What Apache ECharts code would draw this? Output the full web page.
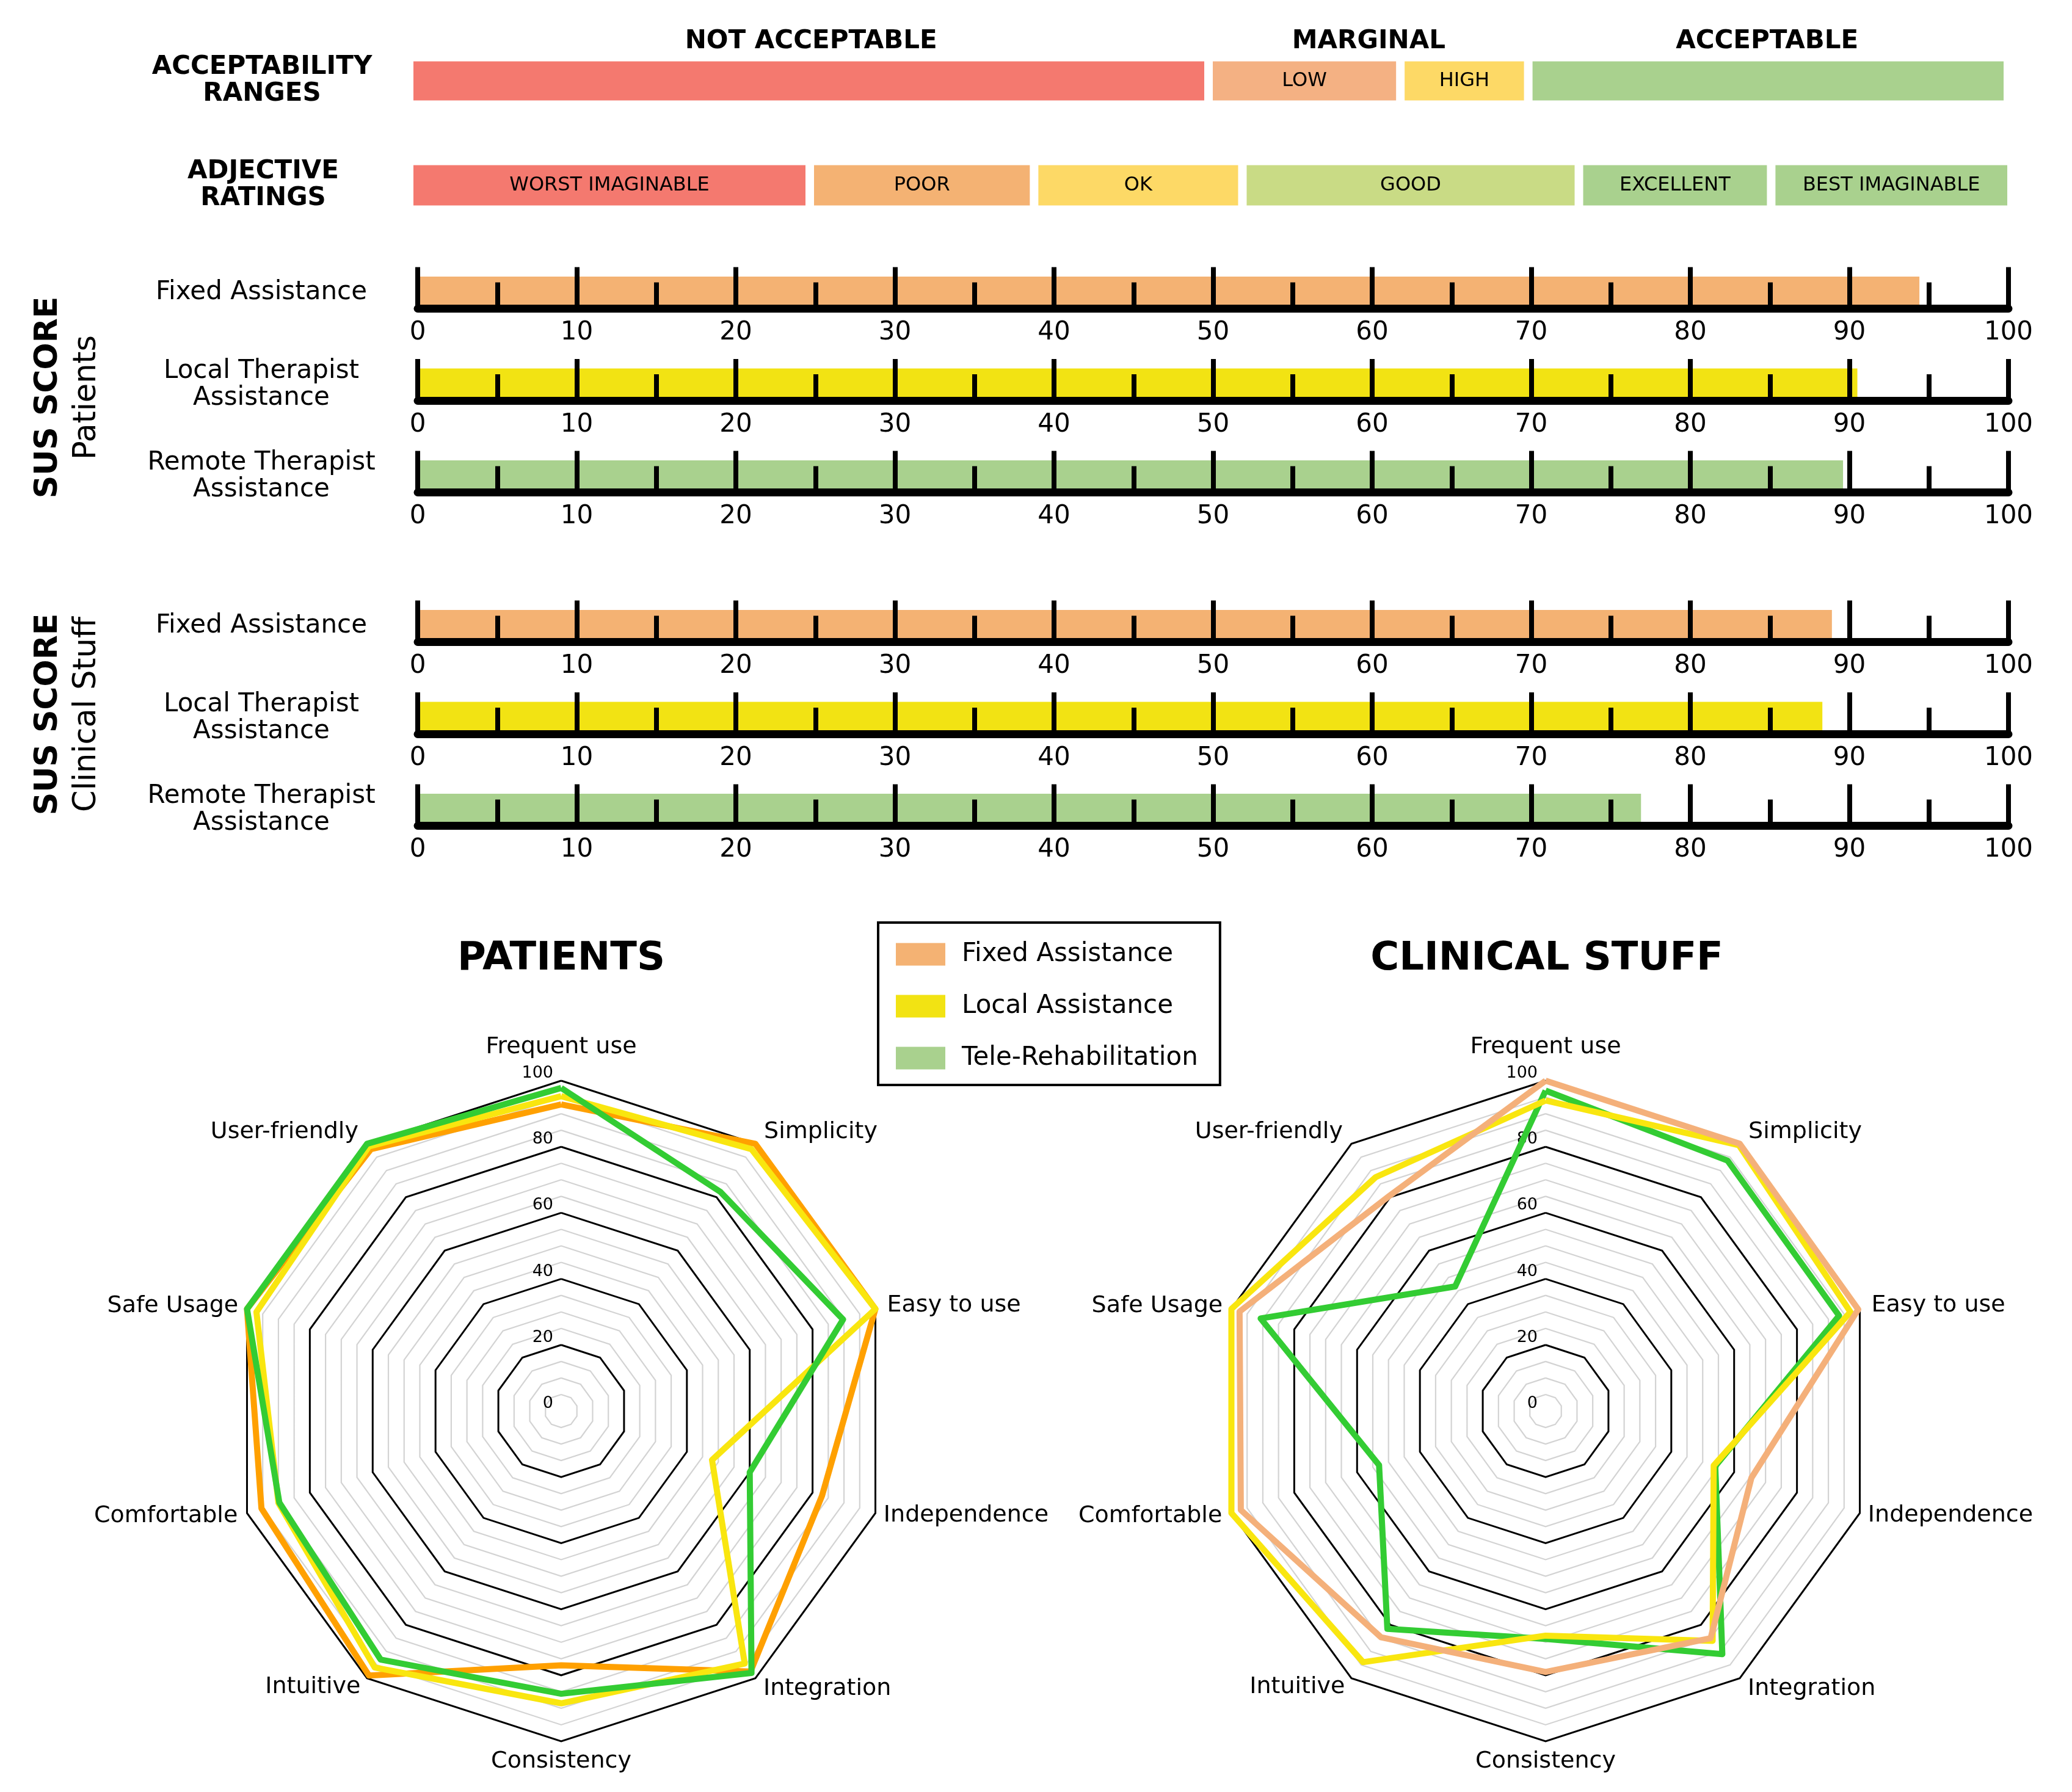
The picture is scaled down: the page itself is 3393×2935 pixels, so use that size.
<!DOCTYPE html>
<html><head><meta charset="utf-8">
<script src="https://cdn.jsdelivr.net/npm/echarts@6/dist/echarts.min.js"></script>
<style>html,body{margin:0;padding:0;background:#fff}#c{width:3393px;height:2935px}</style>
</head><body><div id="c"></div>
<script>
const FONT = 'DejaVu Sans';

// ---------------- data ----------------
const accHeaders = ['NOT ACCEPTABLE', 'MARGINAL', 'ACCEPTABLE'];
const accHeaderBounds = [0, 50, 70, 100];
const accLabels = ['', 'LOW', 'HIGH', ''];
const accBounds = [0, 50, 62, 70, 100];
const adjLabels = ['WORST IMAGINABLE', 'POOR', 'OK', 'GOOD', 'EXCELLENT', 'BEST IMAGINABLE'];
const adjBounds = [0, 25, 39, 52, 73, 85, 100];

const susRowLabels = ['Fixed Assistance', 'Local Therapist\nAssistance', 'Remote Therapist\nAssistance'];
const susPatients = [94.4, 90.5, 89.6];
const susClinical = [88.9, 88.3, 76.9];
const susAxis = { min: 0, max: 100, interval: 10 };

const radarAxes = ['Frequent use', 'Simplicity', 'Easy to use', 'Independence', 'Integration',
  'Consistency', 'Intuitive', 'Comfortable', 'Safe Usage', 'User-friendly']; // clockwise from top
const radarSeriesNames = ['Fixed Assistance', 'Local Assistance', 'Tele-Rehabilitation'];
const patFixed = [92.8, 100, 100, 83, 97.5, 77, 99, 95.4, 100, 98];
const patLocal = [95.3, 98, 100, 48, 94.5, 88.5, 96, 90, 97, 99];
const patTele  = [97.8, 82, 89.7, 60, 98, 85.6, 93, 89.7, 100, 100];
const cliFixed = [100, 100, 99.5, 65.5, 85, 79, 84.7, 97, 97.4, 80.5];
const cliLocal = [94, 99.5, 97, 53.5, 86, 68, 94, 100, 100, 87.5];
const cliTele  = [97, 93.7, 93.4, 54, 91, 69, 81.5, 53, 90.7, 46.6];
const radarMax = 100;

// ---------------- styles ----------------
const accColors = ['#F4796F', '#F4B183', '#FDD966', '#A9D18E'];
const adjColors = ['#F4796F', '#F4B273', '#FDD966', '#C9DB85', '#A9D18E', '#A9D18E'];
const susColors = ['#F4B273', '#F2E313', '#A9D18E'];
const legendColors = ['#F4B273', '#F2E313', '#A9D18E'];
const patLineColors = ['#FFA000', '#F9E60F', '#33CC33'];
const cliLineColors = ['#F4B07A', '#F9E60F', '#33CC33'];

const grids = [], xAxes = [], yAxes = [], series = [];
function addGrid(g, xOpt, yOpt) {
  grids.push(g);
  const i = grids.length - 1;
  xAxes.push(Object.assign({ gridIndex: i }, xOpt));
  yAxes.push(Object.assign({ gridIndex: i }, yOpt));
  return i;
}
const hiddenX = { type: 'value', min: 0, max: 100, show: false };

// header labels
let gi = addGrid({ left: 676, width: 2609, top: 42, height: 52 }, hiddenX,
  { type: 'category', data: ['h'], show: false });
accHeaders.forEach((t, i) => series.push({
  type: 'bar', xAxisIndex: gi, yAxisIndex: gi, stack: 'hdr', barWidth: '100%', silent: true,
  data: [accHeaderBounds[i + 1] - accHeaderBounds[i]],
  itemStyle: { color: 'rgba(0,0,0,0)' },
  label: { show: true, position: 'inside', formatter: t, fontFamily: FONT, fontSize: 42, fontWeight: 'bold', color: '#000' }
}));

function catY(label, margin, bold) {
  return {
    type: 'category', data: [label], axisLine: { show: false }, axisTick: { show: false },
    axisLabel: { margin: margin, align: 'center', fontFamily: FONT, fontSize: 42, lineHeight: 44,
      fontWeight: bold ? 'bold' : 'normal', color: '#000' }
  };
}
function stackRow(gridIdx, bounds, labels, colors, stack) {
  labels.forEach((t, i) => series.push({
    type: 'bar', xAxisIndex: gridIdx, yAxisIndex: gridIdx, stack: stack, barWidth: '100%', silent: true,
    data: [bounds[i + 1] - bounds[i]],
    itemStyle: { color: colors[i], borderColor: '#fff', borderWidth: 7 },
    label: { show: !!t, position: 'inside', formatter: t, fontFamily: FONT, fontSize: 32, color: '#000' }
  }));
}
gi = addGrid({ left: 670, width: 2618, top: 93.5, height: 78 }, hiddenX, catY('ACCEPTABILITY\nRANGES', 241, true));
stackRow(gi, accBounds, accLabels, accColors, 'acc');
gi = addGrid({ left: 670, width: 2624, top: 263.5, height: 80 }, hiddenX, catY('ADJECTIVE\nRATINGS', 239, true));
stackRow(gi, adjBounds, adjLabels, adjColors, 'adj');

// SUS rows
function susX() {
  return {
    type: 'value', min: susAxis.min, max: susAxis.max, interval: susAxis.interval, z: 10,
    axisLine: { show: true, onZero: false, lineStyle: { color: '#000', width: 13 } },
    axisTick: { show: true, inside: true, length: 68, lineStyle: { color: '#000', width: 8 } },
    minorTick: { show: true, splitNumber: 2, length: 43, lineStyle: { color: '#000', width: 8 } },
    splitLine: { show: false }, minorSplitLine: { show: false },
    axisLabel: { fontFamily: FONT, fontSize: 42, color: '#000', margin: 19 }
  };
}
function susGroup(top0, values) {
  values.forEach((v, r) => {
    const g = addGrid({ left: 684, width: 2605, top: top0 + r * 150.5, height: 52.5 }, susX(), catY(susRowLabels[r], 256, false));
    series.push({ type: 'bar', xAxisIndex: g, yAxisIndex: g, barWidth: '100%', silent: true,
      data: [v], itemStyle: { color: susColors[r] } });
  });
}
susGroup(453, susPatients);
susGroup(999, susClinical);

// Radars
const ccw = [0, 9, 8, 7, 6, 5, 4, 3, 2, 1];
const nameGapsCW = [36, 24, 20, 14, 22, 14, 18, 16, 15, 24];
const nameShiftCW = [0, 0, 0, 18, 8, 0, 8, 18, 0, 0];
function reorder(arr) { return ccw.map(k => arr[k]); }
const radarLabelStyle = { show: true, color: '#000', fontFamily: FONT, fontSize: 27, margin: 13, verticalAlign: 'bottom', lineHeight: 24 };
const radars = [];
function addRadar(center) {
  radars.push({
    center: center, radius: 541, startAngle: 90, shape: 'polygon', splitNumber: 20,
    indicator: ccw.map(k => {
      const o = { name: radarAxes[k], min: 0, max: radarMax, nameGap: nameGapsCW[k] };
      if (nameShiftCW[k]) o.nameTextStyle = { padding: [nameShiftCW[k], 0, 0, 0] };
      return o;
    }),
    axisName: { color: '#000', fontFamily: FONT, fontSize: 38 },
    axisLine: { show: false }, axisTick: { show: false }, axisLabel: { show: false },
    splitArea: { show: false },
    splitLine: { lineStyle: { color: ['rgba(0,0,0,0)', '#d3d3d3', '#d3d3d3', '#d3d3d3'], width: 2.2 } }
  });
  radars.push({
    center: center, radius: 541, startAngle: 90, shape: 'polygon', splitNumber: 5,
    indicator: ccw.map((k, i) => {
      const o = { name: radarAxes[k], min: 0, max: radarMax };
      if (i === 0) o.axisLabel = Object.assign({}, radarLabelStyle);
      return o;
    }),
    axisName: { show: false },
    axisLine: { show: false }, axisTick: { show: false },
    axisLabel: Object.assign({}, radarLabelStyle, { show: false }),
    splitArea: { show: false },
    splitLine: { lineStyle: { color: '#000', width: 3 } }
  });
  return radars.length - 2;
}
const rL = addRadar([919, 2311]);
const rR = addRadar([2531, 2311]);
function radarItem(name, vals, color) {
  return { name: name, value: reorder(vals), lineStyle: { color: color, width: 10 }, itemStyle: { color: color } };
}
series.push({ type: 'radar', radarIndex: rL, symbol: 'none', silent: true, z: 3, data: [
  radarItem(radarSeriesNames[0], patFixed, patLineColors[0]),
  radarItem(radarSeriesNames[1], patLocal, patLineColors[1]),
  radarItem(radarSeriesNames[2], patTele, patLineColors[2])
] });
series.push({ type: 'radar', radarIndex: rR, symbol: 'none', silent: true, z: 3, data: [
  radarItem(radarSeriesNames[2], cliTele, cliLineColors[2]),
  radarItem(radarSeriesNames[1], cliLocal, cliLineColors[1]),
  radarItem(radarSeriesNames[0], cliFixed, cliLineColors[0])
] });

function vertLabel(y, sub) {
  return { type: 'text', x: 111, y: y, rotation: Math.PI / 2, silent: true,
    style: { text: '{a|SUS SCORE}\n{b|' + sub + '}', align: 'center', verticalAlign: 'middle',
      rich: { a: { fontFamily: FONT, fontSize: 52, fontWeight: 'bold', lineHeight: 63, fill: '#000', align: 'center' },
              b: { fontFamily: FONT, fontSize: 51, lineHeight: 63, fill: '#000', align: 'center' } } } };
}
function titleText(x, t) {
  return { type: 'text', x: x, y: 1571, silent: true,
    style: { text: t, align: 'center', verticalAlign: 'middle', fontFamily: FONT, fontSize: 64, fontWeight: 'bold', fill: '#000' } };
}

const option = {
  animation: false,
  backgroundColor: '#fff',
  grid: grids, xAxis: xAxes, yAxis: yAxes,
  radar: radars,
  legend: {
    orient: 'vertical', left: 1438, top: 1511, padding: [31, 36, 23, 29],
    itemWidth: 81, itemHeight: 37, itemGap: 43, icon: 'rect', selectedMode: false,
    borderColor: '#000', borderWidth: 4,
    itemStyle: { borderWidth: 0 },
    data: radarSeriesNames.map((n, i) => ({ name: n, itemStyle: { color: legendColors[i], borderWidth: 0 } })),
    textStyle: { fontFamily: FONT, fontSize: 42, color: '#000', lineHeight: 37, padding: [0, 0, 0, 22] }
  },
  graphic: [vertLabel(651, 'Patients'), vertLabel(1170, 'Clinical Stuff'),
    titleText(919, 'PATIENTS'), titleText(2533, 'CLINICAL STUFF')],
  series: series
};
const chart = echarts.init(document.getElementById('c'), null, { width: 3393, height: 2935 });
chart.setOption(option);
</script></body></html>
